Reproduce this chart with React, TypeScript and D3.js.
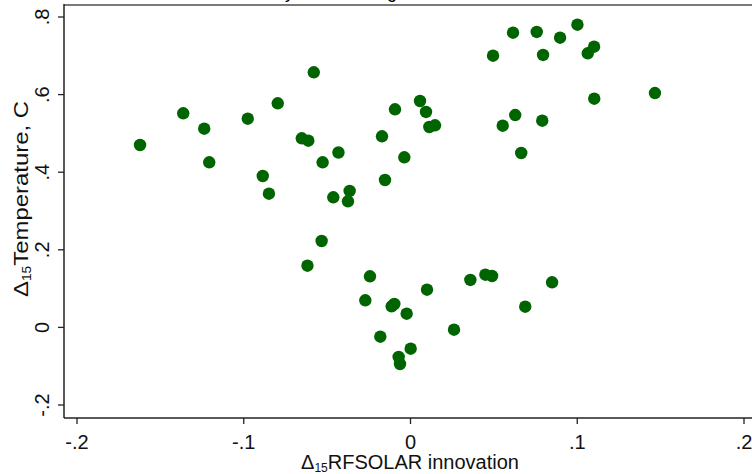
import React, { useEffect, useRef } from "react";
import * as d3 from "d3";

// RFSOLAR innovation (x) vs temperature change (y)
const solarX = [
  -0.1619, -0.136, -0.1234, -0.1204, -0.0973, -0.0883, -0.0846, -0.0793, -0.0649, -0.061,
  -0.0577, -0.0615, -0.0524, -0.053, -0.0429, -0.046, -0.0362, -0.0372, -0.0168, -0.015,
  -0.009, -0.0034, 0.006, 0.0096, 0.0116, 0.015, 0.0498, 0.0618, 0.076, 0.0798,
  0.09, 0.1004, 0.1066, 0.1104, 0.0556, 0.0631, 0.0667, 0.0793, 0.1105, 0.1469,
  -0.024, -0.0268, -0.0178, -0.011, -0.0094, -0.0068, -0.006, -0.002, 0.0004, 0.0102,
  0.0264, 0.0362, 0.0452, 0.0492, 0.0691, 0.0852,
];
const tempY = [
  0.4688, 0.5505, 0.5108, 0.4242, 0.5366, 0.3889, 0.3433, 0.5763, 0.4861, 0.4799,
  0.6562, 0.1577, 0.4242, 0.2214, 0.4495, 0.334, 0.3503, 0.3237, 0.4912, 0.3786,
  0.5608, 0.4371, 0.5822, 0.5539, 0.5152, 0.5196, 0.699, 0.7582, 0.7601, 0.7008,
  0.7454, 0.7789, 0.7052, 0.7222, 0.5186, 0.5461, 0.4482, 0.5314, 0.5881, 0.6028,
  0.1304, 0.0686, -0.0253, 0.0531, 0.059, -0.0776, -0.0956, 0.034, -0.0562, 0.0959,
  -0.0072, 0.1209, 0.1345, 0.1312, 0.0521, 0.1149,
];
const xTicks = [-0.2, -0.1, 0, 0.1, 0.2];
const yTicks = [-0.2, 0, 0.2, 0.4, 0.6, 0.8];

const W = 752;
const H = 474;
const FONT = "'Liberation Sans', Arial, sans-serif";

// stata style: .2 instead of 0.2
const fmt = (v: number) => {
  if (Math.abs(v) < 1e-9) return "0";
  return String(+v.toFixed(2)).replace(/^(-?)0\./, "$1.");
};

export default function App() {
  const svgRef = useRef<SVGSVGElement>(null);

  useEffect(() => {
    const svg = d3.select(svgRef.current);
    svg.selectAll("*").remove();

    const x = d3.scaleLinear().domain([-0.2, 0.2]).range([76.5, 743.5]);
    const y = d3.scaleLinear().domain([-0.2, 0.8]).range([404.5, 16.5]);

    const left = 64;
    const top = 5;
    const bottom = 418;

    // title, mostly cut off above the picture
    svg
      .append("text")
      .attr("x", 213)
      .attr("y", -2)
      .attr("font-family", FONT)
      .attr("font-size", 18)
      .text("Scatter by solar forcing");

    // top frame
    svg
      .append("line")
      .attr("x1", left)
      .attr("x2", W)
      .attr("y1", top)
      .attr("y2", top)
      .attr("stroke", "#7a7a7a")
      .attr("stroke-width", 2);

    const pts = solarX.map((v, i) => ({ x: v, y: tempY[i] }));
    svg
      .append("g")
      .selectAll("circle")
      .data(pts)
      .enter()
      .append("circle")
      .attr("cx", (d) => x(d.x))
      .attr("cy", (d) => y(d.y))
      .attr("r", 6.2)
      .attr("fill", "#006400");

    // y axis
    const yAxis = d3
      .axisLeft(y)
      .tickValues(yTicks)
      .tickSize(6)
      .tickPadding(0)
      .tickFormat(() => "");
    const gy = svg.append("g").attr("transform", `translate(${left},0)`).call(yAxis);
    gy.select(".domain").remove();
    gy.selectAll(".tick line").attr("stroke", "#222").attr("stroke-width", 1.3);
    gy.selectAll(".tick")
      .append("text")
      .attr("transform", "translate(-15,0) rotate(-90)")
      .attr("text-anchor", "middle")
      .attr("fill", "#111")
      .attr("font-family", FONT)
      .attr("font-size", 20)
      .attr("y", 0)
      .text((d: any) => fmt(d));
    svg
      .append("line")
      .attr("x1", left)
      .attr("x2", left)
      .attr("y1", top - 1)
      .attr("y2", bottom)
      .attr("stroke", "#222")
      .attr("stroke-width", 1.5);

    // x axis
    const xAxis = d3
      .axisBottom(x)
      .tickValues(xTicks)
      .tickSize(6)
      .tickPadding(11)
      .tickFormat((d) => fmt(d as number));
    const gx = svg.append("g").attr("transform", `translate(0,${bottom})`).call(xAxis);
    gx.select(".domain").remove();
    gx.selectAll(".tick line").attr("stroke", "#222").attr("stroke-width", 1.3);
    gx.selectAll(".tick text")
      .attr("fill", "#111")
      .attr("font-family", FONT)
      .attr("font-size", 20);
    svg
      .append("line")
      .attr("x1", left)
      .attr("x2", W)
      .attr("y1", bottom)
      .attr("y2", bottom)
      .attr("stroke", "#222")
      .attr("stroke-width", 1.5);

    // axis titles
    const xt = svg
      .append("text")
      .attr("x", x(0))
      .attr("y", 469)
      .attr("text-anchor", "middle")
      .attr("font-family", FONT)
      .attr("font-size", 20)
      .attr("fill", "#111");
    xt.append("tspan").text("Δ");
    xt.append("tspan").attr("font-size", 12).attr("dy", 3).text("15");
    xt.append("tspan").attr("dy", -3).text("RFSOLAR innovation");

    const yt = svg
      .append("text")
      .attr("transform", `translate(28,199) rotate(-90)`)
      .attr("text-anchor", "middle")
      .attr("font-family", FONT)
      .attr("font-size", 21)
      .attr("textLength", 196)
      .attr("lengthAdjust", "spacingAndGlyphs")
      .attr("fill", "#111");
    yt.append("tspan").text("Δ");
    yt.append("tspan").attr("font-size", 12).attr("dy", 3).text("15");
    yt.append("tspan").attr("dy", -3).text("Temperature, C");
  }, []);

  return (
    <svg
      ref={svgRef}
      width={W}
      height={H}
      style={{ position: "absolute", left: 0, top: 0, background: "#fff" }}
    />
  );
}
